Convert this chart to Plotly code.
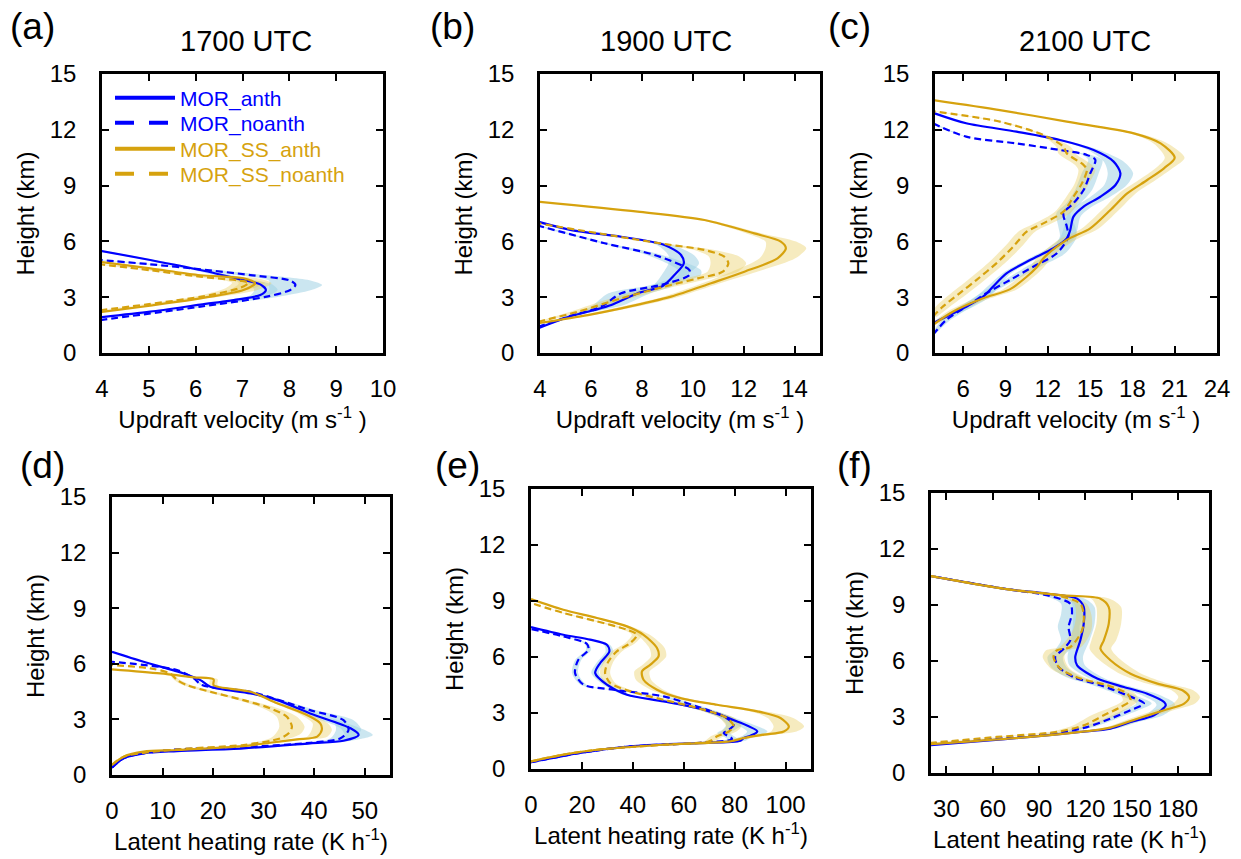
import plotly.graph_objects as go

# ---------------- data (height km, value) ----------------
A_anth_h = [1.92, 2.22, 2.60, 2.90, 3.12, 3.39, 3.69, 3.96, 4.46, 5.00, 5.50]
A_anth_x = [3.96, 5.03, 6.10, 6.95, 7.38, 7.50, 7.38, 6.95, 6.10, 5.03, 3.96]
A_anth_s = [0.0, 0.05, 0.1, 0.15, 0.2, 0.25, 0.25, 0.2, 0.15, 0.1, 0.05]
A_noanth_h = [1.77, 2.49, 3.03, 3.39, 3.66, 3.89, 4.19, 4.50, 4.77, 5.00]
A_noanth_x = [3.96, 6.10, 7.52, 8.02, 8.13, 8.02, 7.17, 6.10, 5.03, 3.96]
A_noanth_s = [0.0, 0.1, 0.25, 0.45, 0.57, 0.45, 0.3, 0.2, 0.1, 0.05]
A_ssanth_h = [2.20, 2.94, 3.39, 3.75, 4.02, 4.18, 4.55, 4.90]
A_ssanth_x = [3.96, 6.10, 7.02, 7.27, 7.02, 6.10, 5.03, 3.96]
A_ssanth_s = [0.0, 0.15, 0.3, 0.35, 0.3, 0.15, 0.08, 0.05]
A_ssnoanth_h = [2.30, 3.02, 3.50, 3.78, 3.89, 4.10, 4.45, 4.77]
A_ssnoanth_x = [3.96, 6.10, 6.95, 7.13, 6.95, 6.10, 5.03, 3.96]
A_ssnoanth_s = [0.0, 0.15, 0.3, 0.35, 0.3, 0.15, 0.08, 0.05]

B_anth_h = [1.33, 1.99, 2.31, 2.58, 3.21, 3.60, 4.19, 4.82, 5.27, 5.81, 6.25, 6.61, 7.06]
B_anth_x = [3.92, 5.23, 6.14, 6.80, 7.84, 8.82, 9.28, 9.65, 9.54, 8.89, 7.19, 5.23, 3.92]
B_anth_s = [0.05, 0.15, 0.3, 0.5, 0.5, 0.4, 0.5, 0.6, 0.5, 0.3, 0.15, 0.1, 0.05]
B_noanth_h = [1.41, 1.95, 2.49, 3.21, 3.66, 4.19, 4.46, 5.27, 5.90, 6.85]
B_noanth_x = [3.92, 5.10, 6.40, 7.19, 8.76, 9.87, 9.87, 8.50, 6.54, 3.92]
B_noanth_s = [0.05, 0.15, 0.4, 0.5, 0.4, 0.45, 0.45, 0.3, 0.15, 0.05]
B_ssanth_h = [1.60, 2.04, 2.40, 3.03, 3.75, 4.37, 5.09, 5.63, 5.99, 6.43, 7.15, 7.60, 8.14]
B_ssanth_x = [3.92, 5.88, 7.19, 9.15, 10.72, 12.03, 13.33, 13.66, 13.46, 12.42, 10.46, 7.84, 3.92]
B_ssanth_s = [0.05, 0.2, 0.3, 0.3, 0.35, 0.5, 0.7, 0.8, 0.6, 0.3, 0.15, 0.1, 0.05]
B_ssnoanth_h = [1.68, 2.22, 2.94, 3.57, 4.01, 4.37, 4.82, 5.18, 5.54, 5.86, 6.97]
B_ssnoanth_x = [3.92, 5.49, 7.19, 8.89, 10.20, 11.18, 11.40, 11.24, 10.46, 8.89, 3.92]
B_ssnoanth_s = [0.05, 0.3, 0.4, 0.4, 0.5, 0.6, 0.7, 0.6, 0.4, 0.2, 0.05]

C_anth_h = [1.60, 1.95, 2.49, 3.03, 3.57, 4.28, 5.00, 5.63, 6.16, 6.61, 7.33, 7.87, 8.40,
            9.03, 9.66, 10.29, 10.91, 11.45, 11.90, 12.35, 12.92]
C_anth_x = [3.84, 4.79, 6.21, 7.41, 8.12, 9.07, 10.74, 12.40, 13.35, 13.59, 13.82, 14.54, 15.73,
            16.80, 17.15, 16.67, 15.25, 12.87, 9.78, 6.21, 3.84]
C_anth_s = [0.1, 0.3, 0.5, 0.5, 0.4, 0.3, 0.3, 0.4, 0.5, 0.5, 0.5, 0.6, 0.7,
            0.8, 0.9, 0.7, 0.4, 0.2, 0.1, 0.05, 0.05]
C_noanth_h = [0.97, 1.77, 2.49, 3.21, 3.92, 4.64, 5.36, 6.25, 6.79, 7.51, 8.05, 8.76, 9.66,
              10.38, 10.65, 10.91, 11.27, 11.63, 12.35]
C_noanth_x = [3.84, 4.79, 6.21, 7.64, 9.31, 10.97, 12.64, 13.45, 13.35, 13.11, 13.82, 14.54, 15.01,
              15.37, 14.77, 12.87, 9.78, 6.21, 3.84]
C_noanth_s = [0.1, 0.3, 0.4, 0.4, 0.4, 0.5, 0.6, 0.6, 0.6, 0.5, 0.5, 0.6, 0.6,
              0.5, 0.3, 0.1, 0.05, 0.05, 0.05]
C_ssanth_h = [1.51, 2.22, 2.94, 3.42, 4.10, 4.60, 5.18, 6.08, 6.70, 7.69, 8.58, 9.30, 9.93,
              10.50, 11.27, 11.81, 12.44, 13.06, 13.60]
C_ssanth_x = [3.84, 5.27, 7.41, 9.30, 10.50, 11.20, 11.80, 13.35, 15.01, 16.44, 17.63, 19.05, 20.24,
              21.00, 20.00, 18.10, 13.35, 8.60, 3.84]
C_ssanth_s = [0.2, 0.4, 0.5, 0.5, 0.5, 0.5, 0.5, 0.6, 0.6, 0.6, 0.6, 0.6, 0.6,
              0.7, 0.5, 0.3, 0.1, 0.05, 0.05]
C_ssnoanth_h = [1.95, 2.49, 3.21, 3.92, 4.82, 5.72, 6.52, 6.97, 7.60, 8.40, 9.12, 9.84, 10.11,
                10.73, 11.09, 11.72, 12.44, 13.00]
C_ssnoanth_x = [3.84, 4.55, 5.74, 6.93, 8.35, 9.55, 10.50, 11.68, 13.11, 13.82, 14.42, 14.77, 14.54,
                13.35, 13.11, 11.68, 8.60, 3.84]
C_ssnoanth_s = [0.3, 0.5, 0.6, 0.6, 0.6, 0.6, 0.6, 0.6, 0.6, 0.5, 0.5, 0.6, 0.6,
                0.6, 0.5, 0.2, 0.1, 0.05]

D_anth_h = [0.40, 0.90, 1.17, 1.29, 1.44, 1.71, 1.85, 2.16, 2.52, 3.32, 4.04, 4.40, 4.76, 5.12, 5.48, 6.11, 6.65]
D_anth_x = [0.0, 2.3, 6.25, 12.86, 26.0, 39.2, 45.8, 48.8, 47.2, 39.2, 32.7, 27.4, 19.45, 17.5, 14.2, 6.25, 0.0]
D_anth_s = [0, 0.2, 0.3, 0.3, 0.5, 1.0, 1.5, 2.8, 2.0, 1.5, 0.8, 0.5, 0.3, 0.3, 0.3, 0.2, 0]
D_noanth_h = [0.40, 0.90, 1.17, 1.38, 1.50, 1.74, 1.98, 2.43, 2.96, 3.50, 4.49, 4.85, 5.21, 5.66, 6.11]
D_noanth_x = [0.0, 2.3, 6.25, 12.86, 26.0, 39.2, 45.2, 46.8, 45.8, 39.2, 27.4, 17.8, 16.2, 12.86, 0.0]
D_noanth_s = [0, 0.2, 0.3, 0.3, 0.5, 1.0, 2.0, 2.5, 2.0, 1.2, 0.5, 0.3, 0.3, 0.2, 0]
D_ssanth_h = [0.54, 0.99, 1.26, 1.35, 1.56, 1.74, 1.92, 2.07, 2.43, 2.79, 3.32, 3.87, 4.49, 4.85, 5.16, 5.27, 5.48, 5.70]
D_ssanth_x = [0.0, 2.3, 6.25, 12.86, 26.0, 31.3, 36.6, 40.6, 41.5, 41.2, 37.9, 32.7, 27.4, 20.1, 20.1, 16.2, 9.56, 0.0]
D_ssanth_s = [0, 0.2, 0.3, 0.3, 0.5, 1, 1.5, 2, 2, 1.5, 1, 0.6, 0.4, 0.8, 0.8, 0.5, 0.3, 0]
D_ssnoanth_h = [0.54, 0.99, 1.38, 1.62, 1.98, 2.25, 2.60, 3.14, 3.60, 4.04, 4.49, 4.85, 5.12, 5.48, 5.75, 5.93]
D_ssnoanth_x = [0.0, 2.3, 12.86, 26.0, 33.3, 34.95, 35.6, 34.6, 31.3, 26.0, 19.45, 14.8, 12.9, 11.5, 7.6, 0.0]
D_ssnoanth_s = [0, 0.2, 0.3, 0.8, 2.0, 2.5, 2.5, 2.0, 1.5, 1.0, 1.0, 0.8, 0.6, 0.4, 0.2, 0]

E_anth_h = [0.36, 0.86, 1.21, 1.39, 1.52, 1.66, 1.78, 2.01, 2.55, 3.18, 3.62, 3.98, 4.52, 5.14, 5.68, 6.30, 6.66, 6.93, 7.19, 7.60]
E_anth_x = [0.0, 19.3, 39.0, 65.2, 82.3, 83.6, 86.2, 88.9, 81.0, 67.8, 52.1, 37.7, 29.8, 25.2, 27.2, 30.8, 29.8, 23.2, 12.7, 0.0]
E_anth_s = [0, 0.5, 1, 1.5, 2, 2.5, 3, 4, 3, 2, 1.5, 1.5, 1.5, 1.5, 1.5, 1.5, 1.2, 1, 0.5, 0]
E_noanth_h = [0.36, 0.86, 1.21, 1.39, 1.61, 1.93, 2.10, 2.37, 2.82, 3.35, 3.89, 4.25, 4.52, 5.14, 5.85, 6.39, 6.71, 7.10, 7.50]
E_noanth_x = [0.0, 19.3, 39.0, 65.2, 79.0, 75.7, 77.7, 79.7, 75.7, 65.2, 52.1, 32.4, 20.6, 17.3, 18.6, 22.6, 21.9, 12.7, 0.0]
E_noanth_s = [0, 0.5, 1, 1.5, 2, 2.5, 2.5, 3, 2.5, 2, 1.5, 1.2, 1.2, 1.2, 1.2, 1, 0.8, 0.5, 0]
E_ssanth_h = [0.41, 0.77, 1.03, 1.30, 1.48, 1.66, 1.84, 2.01, 2.28, 2.73, 3.09, 3.44, 3.80, 4.25, 4.78, 5.23,
              5.59, 6.03, 6.48, 7.19, 7.64, 8.09, 8.53, 9.10]
E_ssanth_x = [0.0, 12.7, 25.9, 52.1, 78.3, 83.6, 91.5, 99.3, 101.3, 98.0, 88.9, 73.1, 58.7, 49.5, 44.2, 43.6,
              46.9, 50.1, 49.5, 44.2, 37.7, 25.9, 12.7, 0.0]
E_ssanth_s = [0, 0.5, 1, 1.5, 2, 3, 4, 5, 6, 5, 3, 2, 2, 2.5, 3, 3, 3, 3, 3, 2.5, 1.5, 1, 0.5, 0]
E_ssnoanth_h = [0.41, 0.77, 1.03, 1.30, 1.48, 1.75, 2.01, 2.28, 2.73, 3.18, 3.71, 4.16, 4.61, 5.14, 5.76,
                6.30, 6.75, 7.19, 7.46, 7.91, 8.36, 8.89]
E_ssnoanth_x = [0.0, 12.7, 25.9, 52.1, 70.0, 73.1, 77.7, 79.6, 77.0, 67.8, 52.1, 39.0, 31.1, 29.1, 30.4,
                33.7, 39.0, 41.6, 37.7, 25.9, 12.7, 0.0]
E_ssnoanth_s = [0, 0.5, 1, 1.5, 2, 2.5, 3, 3, 3, 2.5, 2, 2, 2, 2, 2, 2, 2, 2, 1.5, 1, 0.5, 0]

F_anth_h = [1.48, 1.71, 1.93, 2.20, 2.38, 2.73, 3.09, 3.63, 3.80, 4.25, 4.61, 5.06, 5.77, 6.21, 7.11,
            8.00, 8.89, 9.34, 9.61, 9.85, 10.55]
F_anth_x = [19.1, 51.7, 84.2, 116.7, 136.2, 149.2, 164.4, 172.0, 170.9, 160.0, 144.9, 127.6, 114.6, 113.4,
            116.7, 118.9, 118.9, 114.6, 95.0, 69.0, 20.0]
F_anth_s = [0, 1, 2, 3, 4, 5, 6, 6, 6, 6, 5, 5, 5, 5, 6, 7, 7, 5, 2, 1, 0]
F_noanth_h = [1.57, 1.98, 2.20, 2.46, 2.91, 3.36, 3.72, 4.16, 4.70, 5.14, 5.68, 6.21, 6.66, 7.11, 7.82,
              8.54, 9.07, 9.52, 9.85, 10.55]
F_noanth_x = [19.1, 84.2, 105.9, 121.1, 136.2, 149.2, 157.9, 147.1, 129.7, 112.3, 102.6, 100.4, 105.9,
              110.2, 109.1, 111.3, 110.2, 95.0, 69.0, 20.0]
F_noanth_s = [0, 2, 3, 4, 4, 5, 5, 5, 5, 5, 5, 5, 5, 6, 7, 7, 6, 3, 1, 0]
F_ssanth_h = [1.54, 1.93, 2.20, 2.43, 2.91, 3.36, 3.72, 4.07, 4.43, 4.79, 5.32, 6.04, 6.66, 7.11, 8.00,
              8.89, 9.34, 9.52, 9.85, 10.55]
F_ssanth_x = [19.1, 84.2, 116.7, 136.2, 153.6, 170.9, 183.9, 187.1, 182.8, 166.6, 149.2, 136.2, 129.7,
              131.9, 135.1, 135.1, 129.7, 105.9, 69.0, 20.0]
F_ssanth_s = [0, 2, 3, 4, 5, 6, 7, 7, 7, 7, 7, 7, 7, 8, 8, 8, 6, 3, 1, 0]
F_ssnoanth_h = [1.61, 1.93, 2.20, 2.55, 3.09, 3.53, 3.89, 4.25, 4.70, 5.06, 5.59, 6.21, 6.57, 6.75, 7.64,
                8.45, 9.07, 9.52, 9.85, 10.55]
F_ssnoanth_x = [19.1, 62.5, 101.5, 118.9, 131.9, 142.7, 149.2, 147.1, 134.0, 116.7, 103.7, 99.3, 101.5,
                110.2, 117.8, 118.9, 116.7, 101.5, 69.0, 20.0]
F_ssnoanth_s = [0, 3, 5, 7, 8, 6, 5, 5, 5, 5, 6, 7, 7, 7, 6, 5, 4, 2, 1, 0]

SERIES_NAMES = ["MOR_anth", "MOR_noanth", "MOR_SS_anth", "MOR_SS_noanth"]
PANEL_LABELS = ["(a)", "(b)", "(c)", "(d)", "(e)", "(f)"]
TIME_TITLES = ["1700 UTC", "1900 UTC", "2100 UTC"]
X_RANGES = [[4, 10], [4, 15], [4, 24], [0, 55], [0, 110], [20, 200]]
X_TICKS = [[4, 5, 6, 7, 8, 9, 10], [4, 6, 8, 10, 12, 14], [6, 9, 12, 15, 18, 21, 24],
           [0, 10, 20, 30, 40, 50], [0, 20, 40, 60, 80, 100], [30, 60, 90, 120, 150, 180]]
Y_TICKS = [0, 3, 6, 9, 12, 15]

panels = [
    [(A_anth_h, A_anth_x, A_anth_s), (A_noanth_h, A_noanth_x, A_noanth_s),
     (A_ssanth_h, A_ssanth_x, A_ssanth_s), (A_ssnoanth_h, A_ssnoanth_x, A_ssnoanth_s)],
    [(B_anth_h, B_anth_x, B_anth_s), (B_noanth_h, B_noanth_x, B_noanth_s),
     (B_ssanth_h, B_ssanth_x, B_ssanth_s), (B_ssnoanth_h, B_ssnoanth_x, B_ssnoanth_s)],
    [(C_anth_h, C_anth_x, C_anth_s), (C_noanth_h, C_noanth_x, C_noanth_s),
     (C_ssanth_h, C_ssanth_x, C_ssanth_s), (C_ssnoanth_h, C_ssnoanth_x, C_ssnoanth_s)],
    [(D_anth_h, D_anth_x, D_anth_s), (D_noanth_h, D_noanth_x, D_noanth_s),
     (D_ssanth_h, D_ssanth_x, D_ssanth_s), (D_ssnoanth_h, D_ssnoanth_x, D_ssnoanth_s)],
    [(E_anth_h, E_anth_x, E_anth_s), (E_noanth_h, E_noanth_x, E_noanth_s),
     (E_ssanth_h, E_ssanth_x, E_ssanth_s), (E_ssnoanth_h, E_ssnoanth_x, E_ssnoanth_s)],
    [(F_anth_h, F_anth_x, F_anth_s), (F_noanth_h, F_noanth_x, F_noanth_s),
     (F_ssanth_h, F_ssanth_x, F_ssanth_s), (F_ssnoanth_h, F_ssnoanth_x, F_ssnoanth_s)],
]

# ---------------- styling ----------------
W, H = 1241, 859
FONT = "Liberation Sans, Arial, sans-serif"
BLUE = "#0000ff"
GOLD = "#d6a20e"
LINE_COLORS = [BLUE, BLUE, GOLD, GOLD]
DASHES = ["solid", "7px,4px", "solid", "7px,4px"]
BAND_COLORS = ["rgba(160,210,228,0.55)", "rgba(160,210,228,0.55)",
               "rgba(232,205,95,0.40)", "rgba(232,205,95,0.40)"]

BOXES = [(102, 383, 74, 353), (540, 820, 74, 353), (935, 1217, 74, 353),
         (112, 390, 497, 775), (531, 811, 489, 769), (931, 1209, 493, 773)]

fig = go.Figure()

for p, series in enumerate(panels):
    xa = "x" if p == 0 else f"x{p+1}"
    ya = "y" if p == 0 else f"y{p+1}"
    for k, (hh, xx, ss) in enumerate(series):
        lo = [x - s for x, s in zip(xx, ss)]
        hi = [x + s for x, s in zip(xx, ss)]
        fig.add_trace(go.Scatter(
            x=lo + hi[::-1], y=list(hh) + list(hh)[::-1], mode="lines",
            fill="toself", fillcolor=BAND_COLORS[k], line=dict(width=0, shape="spline", smoothing=0.8),
            xaxis=xa, yaxis=ya, showlegend=False, hoverinfo="skip"))
    for k, (hh, xx, ss) in enumerate(series):
        fig.add_trace(go.Scatter(
            x=xx, y=hh, mode="lines", name=SERIES_NAMES[k],
            line=dict(color=LINE_COLORS[k], width=2.2, dash=DASHES[k], shape="spline", smoothing=0.8),
            xaxis=xa, yaxis=ya, showlegend=False))

# legend: one small legend per row so rows sit where the original key has them
LEG_DASH = ["solid", "19px,15px", "solid", "19px,15px"]
LEG_KEYS = ["legend", "legend2", "legend3", "legend4"]
LEG_ROWS = [98, 123, 149, 174]
for k, nm in enumerate(SERIES_NAMES):
    fig.add_trace(go.Scatter(
        x=[None], y=[None], mode="lines",
        name=f'<span style="color:{LINE_COLORS[k]}">{nm}</span>',
        line=dict(color=LINE_COLORS[k], width=4, dash=LEG_DASH[k]),
        xaxis="x", yaxis="y", showlegend=True, legend=LEG_KEYS[k]))

TICK_FS = 24
TITLE_FS = 24

layout = dict(
    width=W, height=H, margin=dict(l=0, r=0, t=0, b=0, autoexpand=False),
    paper_bgcolor="white", plot_bgcolor="white",
    font=dict(family=FONT, size=TICK_FS, color="black"),
    showlegend=True,
)
for k, key in enumerate(LEG_KEYS):
    layout[key] = dict(x=110 / W, y=1 - LEG_ROWS[k] / H, xanchor="left", yanchor="middle",
                       bgcolor="rgba(0,0,0,0)", font=dict(size=21, family=FONT),
                       itemwidth=60, borderwidth=0)

for p in range(6):
    l, r, t, b = BOXES[p]
    xkey = "xaxis" if p == 0 else f"xaxis{p+1}"
    ykey = "yaxis" if p == 0 else f"yaxis{p+1}"
    xtitle = "Updraft velocity (m s<sup>-1</sup> )" if p < 3 else "Latent heating rate (K h<sup>-1</sup>)"
    yanchor_name = "y" if p == 0 else f"y{p+1}"
    xanchor_name = "x" if p == 0 else f"x{p+1}"
    layout[xkey] = dict(
        domain=[l / W, r / W], anchor=yanchor_name, range=X_RANGES[p], automargin=False,
        tickmode="array", tickvals=X_TICKS[p], ticks="inside", ticklen=7, tickwidth=2,
        tickcolor="black", showline=True, linewidth=2.5, linecolor="black", mirror="ticks",
        showgrid=False, zeroline=False, ticklabelstandoff=12,
        tickfont=dict(size=TICK_FS, family=FONT, color="black"),
        title=dict(text=xtitle, font=dict(size=TITLE_FS, family=FONT, color="black"), standoff=11))
    layout[ykey] = dict(
        domain=[1 - b / H, 1 - t / H], anchor=xanchor_name, range=[0, 15], automargin=False,
        tickmode="array", tickvals=Y_TICKS, ticks="inside", ticklen=7, tickwidth=2,
        tickcolor="black", showline=True, linewidth=2.5, linecolor="black", mirror="ticks",
        showgrid=False, zeroline=False, ticklabelstandoff=18,
        tickfont=dict(size=TICK_FS, family=FONT, color="black"),
        title=dict(text="Height (km)", font=dict(size=TITLE_FS, family=FONT, color="black"), standoff=9))

fig.update_layout(**layout)

LABEL_POS = [(8, 27), (428, 27), (826, 27), (18, 465), (433, 465), (835, 465)]
for (px, py), lab in zip(LABEL_POS, PANEL_LABELS):
    fig.add_annotation(x=px / W, y=1 - py / H, xref="paper", yref="paper", text=lab,
                       showarrow=False, xanchor="left", yanchor="middle",
                       font=dict(size=37, family=FONT, color="black"))
TITLE_POS = [(246, 41), (666, 41), (1085, 41)]
for (px, py), tt in zip(TITLE_POS, TIME_TITLES):
    fig.add_annotation(x=px / W, y=1 - py / H, xref="paper", yref="paper", text=tt,
                       showarrow=False, xanchor="center", yanchor="middle",
                       font=dict(size=29, family=FONT, color="black"))

fig.write_html("out.html", config={"displayModeBar": False},
               post_script="document.body.style.margin='0';document.body.style.overflow='hidden';")
